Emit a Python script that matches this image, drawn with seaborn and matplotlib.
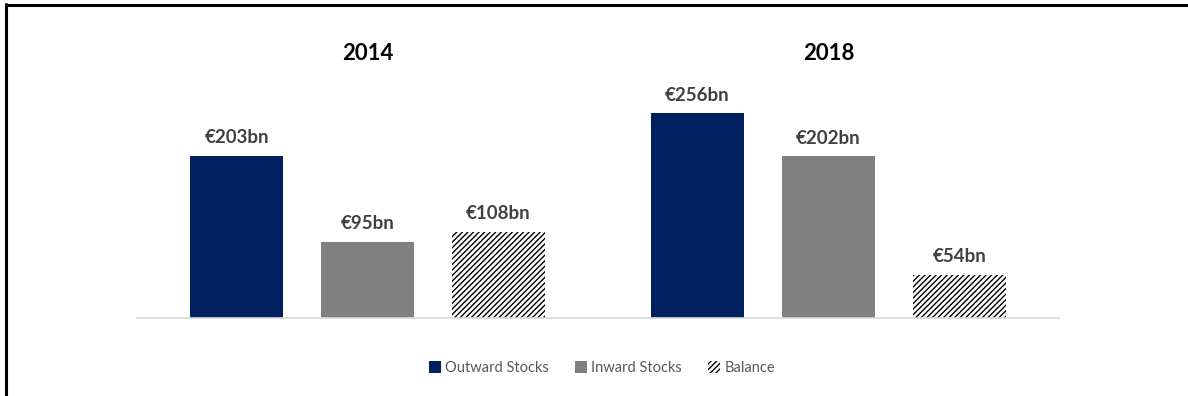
import matplotlib
matplotlib.use("Agg")
import matplotlib.pyplot as plt
import matplotlib.patches as mpatches
import seaborn as sns
import pandas as pd

sns.set_theme(style="white")
plt.rcParams["font.family"] = ["Lato", "DejaVu Sans"]
plt.rcParams["hatch.linewidth"] = 1.0

years = ["2014", "2018"]
categories = ["Outward Stocks", "Inward Stocks", "Balance"]
values_2014 = [203, 95, 108]
values_2018 = [256, 202, 54]
colors = ["#002060", "#808080", "#ffffff"]

W, H = 1188, 396
fig = plt.figure(figsize=(W / 100, H / 100), dpi=100)

# page frame: top and left rules
fig.add_artist(plt.Line2D([6 / W, 6 / W], [0, 1 - 4 / H], color="black", lw=2.2,
                          transform=fig.transFigure))
fig.add_artist(plt.Line2D([6 / W, 1], [1 - 4.5 / H, 1 - 4.5 / H], color="black", lw=2.2,
                          transform=fig.transFigure))

px_per_unit = 0.8
base_y = 318
ymax = 300
ax_h = ymax * px_per_unit
panel_w = 461
lefts = [137, 598]

for left, year, vals in zip(lefts, years, [values_2014, values_2018]):
    ax = fig.add_axes([left / W, (H - base_y) / H, panel_w / W, ax_h / H])
    df = pd.DataFrame({"category": categories, "value": vals})
    sns.barplot(data=df, x="category", y="value", hue="category", palette=colors,
                width=0.71, ax=ax, legend=False, saturation=1)
    for i, patch in enumerate(ax.patches):
        patch.set_linewidth(0)
        if categories[i] == "Balance":
            patch.set_hatch("//////")
            patch.set_edgecolor("black")
            patch.set_linewidth(0)
    for i, v in enumerate(vals):
        ax.text(i, v + 12, f"€{v}bn", ha="center", va="bottom", fontsize=13.5,
                fontweight="bold", color="#404040")
    ax.set_xlim(-0.76, 2.76)
    ax.set_ylim(0, ymax)
    ax.set_title(year, fontsize=16, fontweight="bold", color="black", y=1.0, pad=13)
    ax.set_xlabel("")
    ax.set_ylabel("")
    ax.set_xticks([])
    ax.set_yticks([])
    for s in ["top", "right", "left"]:
        ax.spines[s].set_visible(False)
    ax.spines["bottom"].set_color("#d9d9d9")
    ax.spines["bottom"].set_linewidth(1.2)

handles = [
    mpatches.Patch(facecolor=colors[0], edgecolor="none", label=categories[0]),
    mpatches.Patch(facecolor=colors[1], edgecolor="none", label=categories[1]),
    mpatches.Patch(facecolor="white", edgecolor="black", hatch="//////", lw=0,
                   label=categories[2]),
]
fig.legend(handles=handles, loc="center", bbox_to_anchor=(602 / W, 1 - 368 / H),
           ncol=3, frameon=False, fontsize=10.5, handlelength=0.8, handleheight=0.8,
           handletextpad=0.3, columnspacing=1.8, labelcolor="#595959")

fig.savefig("out.png", dpi=100)
